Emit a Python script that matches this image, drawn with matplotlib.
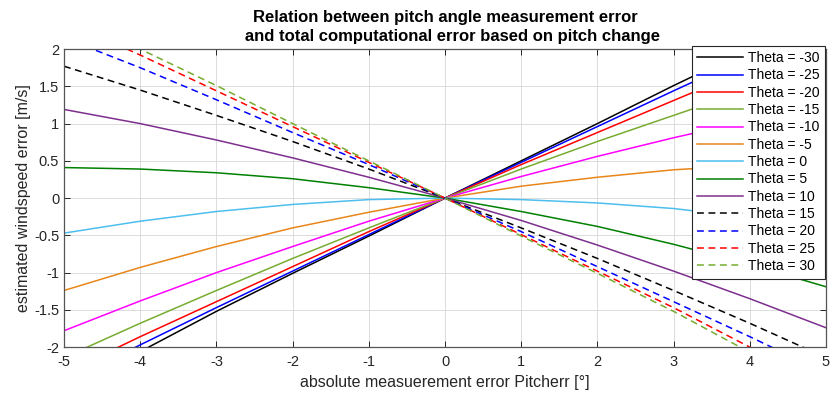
import matplotlib
matplotlib.use('Agg')
import matplotlib.pyplot as plt

plt.rcParams['font.family'] = ['Liberation Sans', 'DejaVu Sans']
plt.rcParams['axes.unicode_minus'] = False

# pitch measurement error [deg]
pitch_err = [-5, -4, -3, -2, -1, 0, 1, 2, 3, 4, 5]

# estimated windspeed error [m/s] for each pitch angle theta
err_m30 = [-2.55, -2.06, -1.52, -1.01, -0.51, 0, 0.50, 1.00, 1.51, 2.00, 2.50]
err_m25 = [-2.48, -1.97, -1.47, -0.98, -0.49, 0, 0.48, 0.96, 1.44, 1.91, 2.38]
err_m20 = [-2.35, -1.86, -1.39, -0.92, -0.45, 0, 0.45, 0.88, 1.31, 1.74, 2.15]
err_m15 = [-2.14, -1.68, -1.24, -0.81, -0.40, 0, 0.39, 0.76, 1.11, 1.46, 1.79]
err_m10 = [-1.78, -1.38, -1.00, -0.65, -0.31, 0, 0.29, 0.56, 0.81, 1.04, 1.25]
err_m5 = [-1.24, -0.93, -0.65, -0.40, -0.19, 0, 0.16, 0.28, 0.38, 0.44, 0.48]
err_0 = [-0.47, -0.31, -0.18, -0.085, -0.02, 0, -0.02, -0.065, -0.14, -0.26, -0.41]
err_p5 = [0.41, 0.39, 0.34, 0.26, 0.14, 0, -0.18, -0.38, -0.62, -0.89, -1.19]
err_p10 = [1.19, 1.00, 0.78, 0.54, 0.28, 0, -0.30, -0.63, -0.98, -1.35, -1.74]
err_p15 = [1.77, 1.45, 1.11, 0.76, 0.39, 0, -0.40, -0.81, -1.24, -1.68, -2.14]
err_p20 = [2.15, 1.75, 1.32, 0.88, 0.45, 0, -0.45, -0.92, -1.39, -1.86, -2.35]
err_p25 = [2.38, 1.92, 1.44, 0.96, 0.48, 0, -0.49, -0.98, -1.47, -2.00, -2.48]
err_p30 = [2.50, 2.00, 1.51, 1.00, 0.50, 0, -0.51, -1.01, -1.52, -2.07, -2.55]

thetas = [-30, -25, -20, -15, -10, -5, 0, 5, 10, 15, 20, 25, 30]
series = [err_m30, err_m25, err_m20, err_m15, err_m10, err_m5, err_0,
          err_p5, err_p10, err_p15, err_p20, err_p25, err_p30]
colors = ['k', 'b', 'r', '#77AC30', '#FF00FF', '#E8861A', '#4DBEEE',
          '#008000', '#7E2F8E', 'k', 'b', 'r', '#77AC30']

fig = plt.figure(figsize=(8.31, 3.99), dpi=100)
ax = fig.add_axes([0.077, 0.130, 0.917, 0.747])

for th, y, c in zip(thetas, series, colors):
    if th > 10:
        ax.plot(pitch_err, y, color=c, lw=1.1, dashes=(4.5, 3), label='Theta = {}'.format(th))
    else:
        ax.plot(pitch_err, y, color=c, lw=1.1, label='Theta = {}'.format(th))

ax.set_xlim(-5, 5)
ax.set_ylim(-2, 2)
ax.set_xticks(range(-5, 6))
ax.set_yticks([-2, -1.5, -1, -0.5, 0, 0.5, 1, 1.5, 2])
ax.set_yticklabels(['-2', '-1.5', '-1', '-0.5', '0', '0.5', '1', '1.5', '2'])
ax.grid(True, color='#dcdcdc', lw=0.7)
ax.set_axisbelow(True)
ax.tick_params(direction='in', length=4, top=True, right=True, labelsize=10.5,
               colors='#262626', width=0.7)
ax.tick_params(axis='x', pad=6)
for s in ax.spines.values():
    s.set_color('#555555')
    s.set_linewidth(0.9)

ax.set_xlabel('absolute measuerement error Pitcherr [°]', fontsize=11.5, color='#262626', labelpad=4)
ax.set_ylabel('estimated windspeed error [m/s]', fontsize=11.5, color='#262626', labelpad=2)
ax.set_title('Relation between pitch angle measurement error\n   and total computational error based on pitch change',
             fontsize=12, fontweight='bold', pad=6, linespacing=1.3)

leg = ax.legend(loc='upper right', bbox_to_anchor=(0.999, 1.012), borderaxespad=0,
                fontsize=10, fancybox=False, framealpha=1, edgecolor='#262626',
                handlelength=3.3, handletextpad=0.35, labelspacing=0.24, borderpad=0.4)
leg.get_frame().set_linewidth(0.8)

plt.savefig('out.png', dpi=100)
plt.close()
